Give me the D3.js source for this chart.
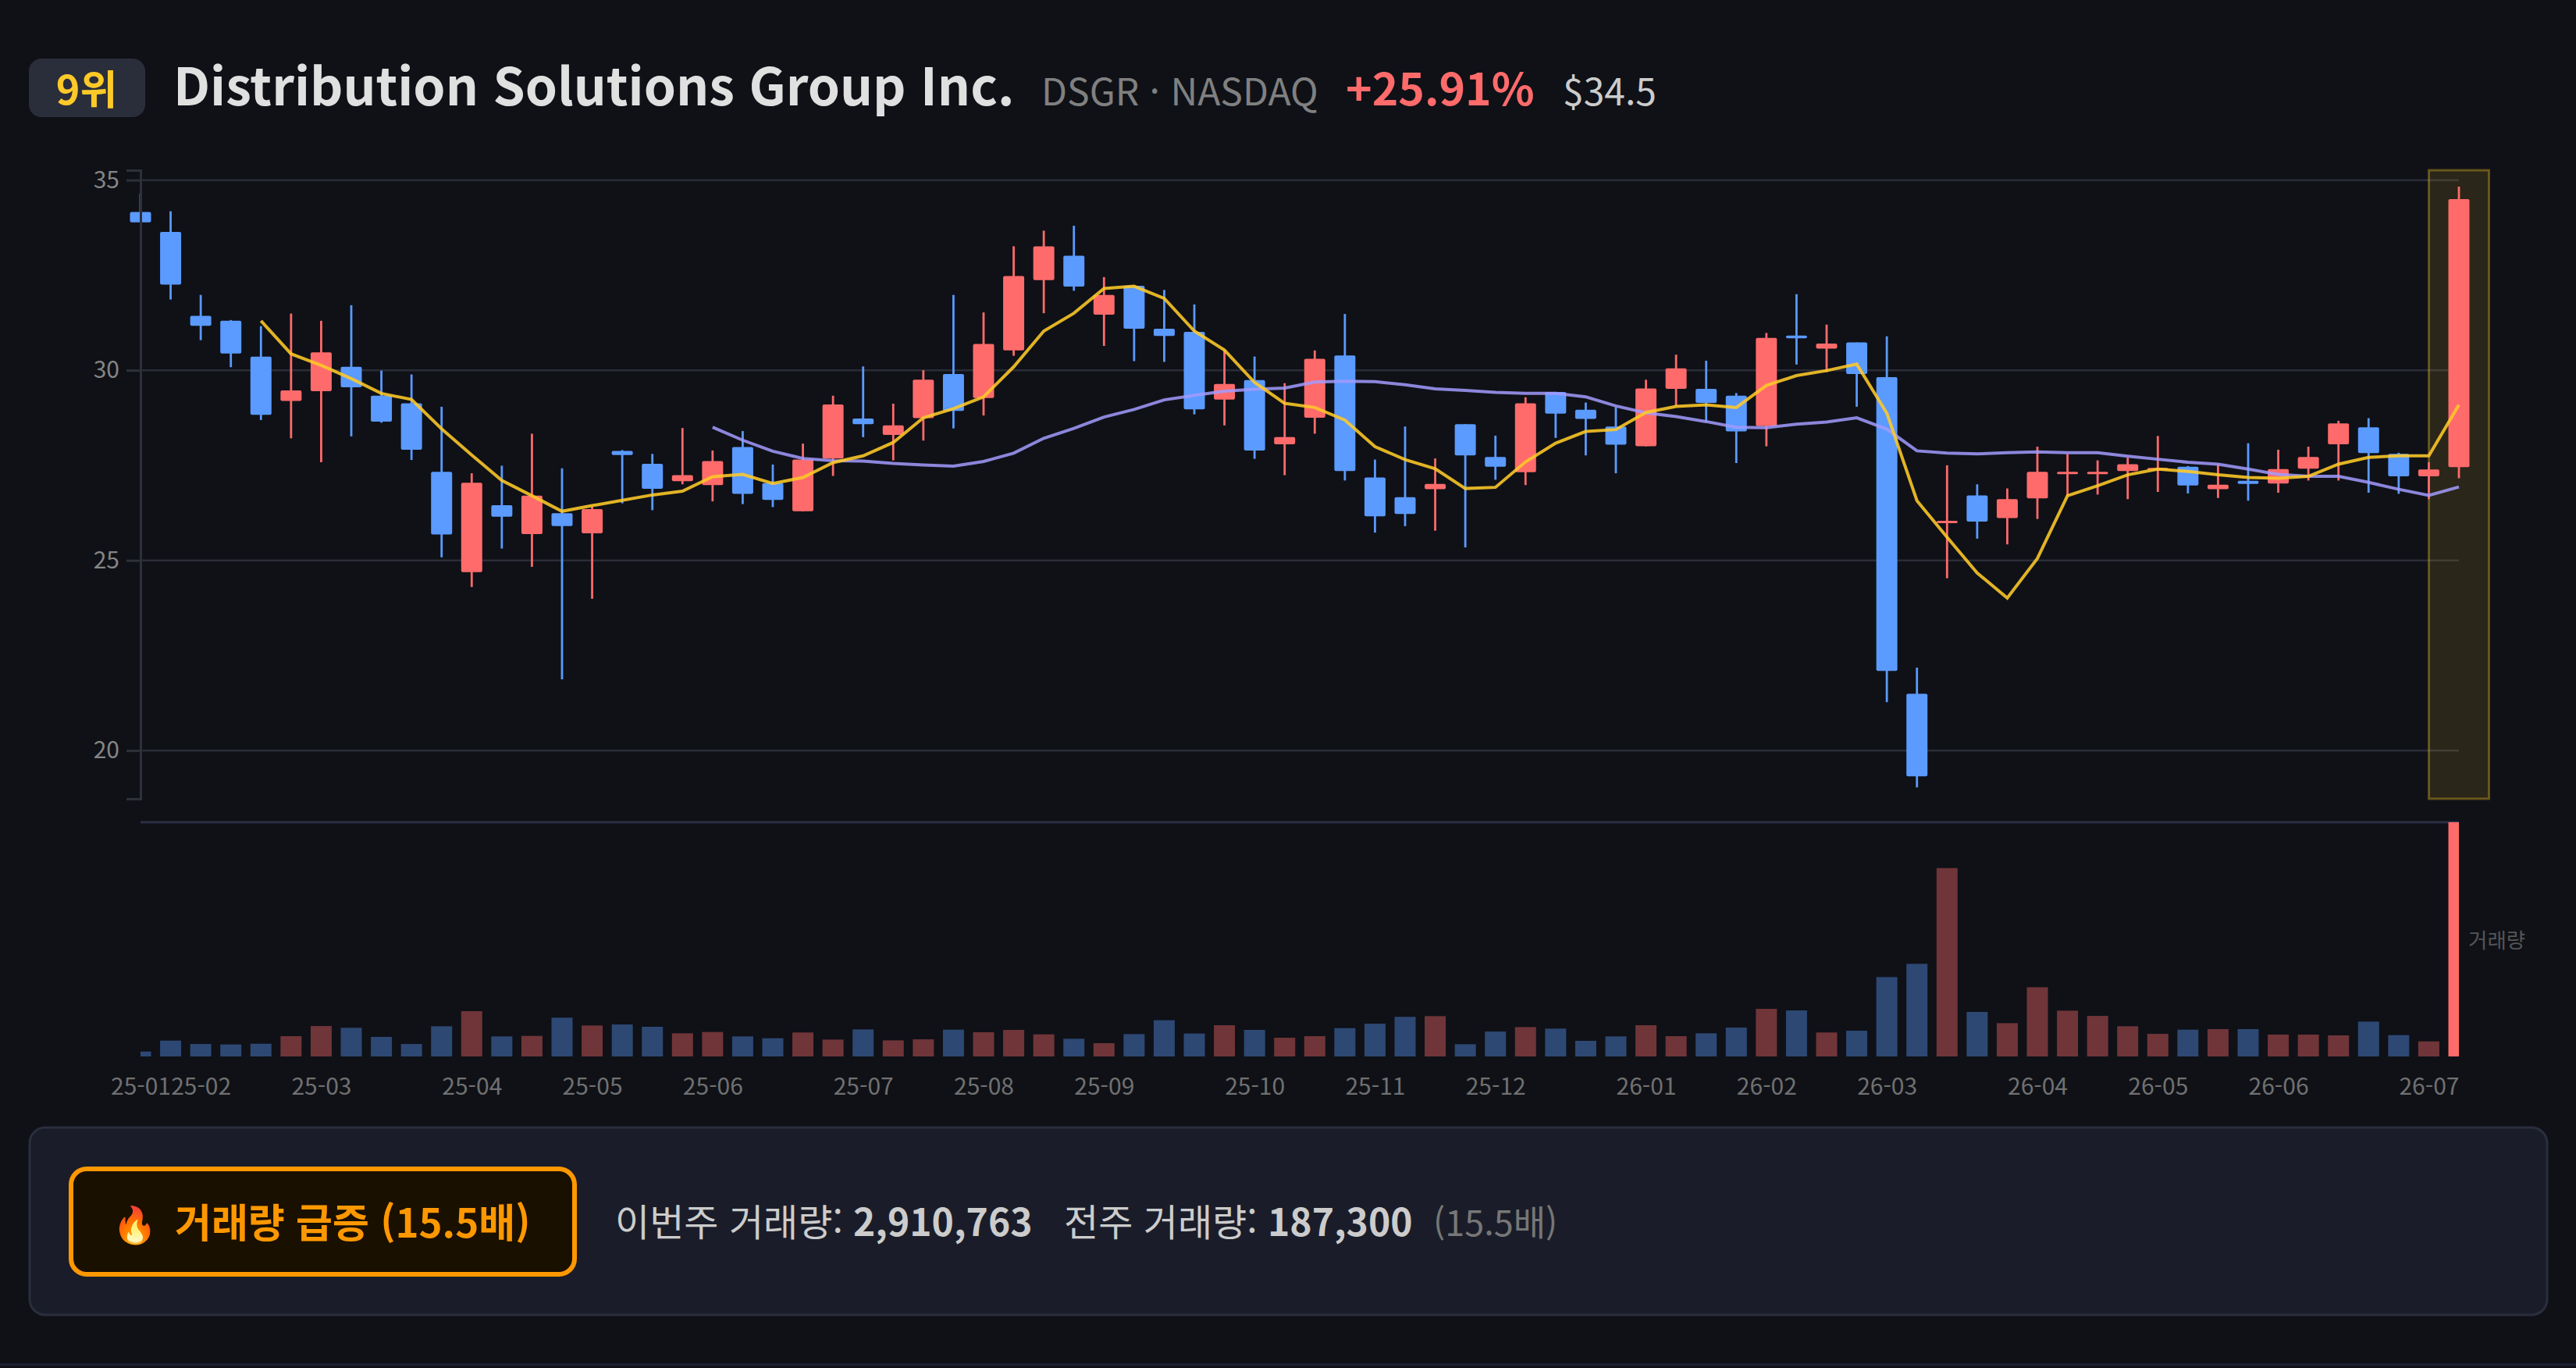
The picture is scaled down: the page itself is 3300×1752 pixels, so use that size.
<!DOCTYPE html>
<html lang="ko">
<head>
<meta charset="utf-8">
<script src="https://cdn.jsdelivr.net/npm/d3@7"></script>
<style>
  html, body { margin: 0; padding: 0; background: #0f1117; }
  svg { display: block; }
  text { font-family: "Noto Sans CJK KR", "Noto Sans", sans-serif; }
</style>
</head>
<body>
<svg id="chart" width="3300" height="1752"></svg>
<script>
const red = '#ff6b6b',
  blue = '#5b9aff',
  yellow = '#ffca28',
  purple = '#a29bfe',
  orange = '#ff9800'

// Weekly data
const opens = [34.16,33.64,31.43,31.30,30.36,29.19,29.45,30.09,29.33,29.13,27.33,24.69,26.45,25.69,26.24,25.71,27.88,27.54,27.08,26.98,
  27.98,27.03,26.29,27.68,28.73,28.30,28.74,29.90,29.27,30.52,32.37,33.01,31.46,32.22,31.09,31.01,29.23,29.74,28.05,28.75,
  30.39,27.18,26.66,26.87,28.58,27.72,27.32,29.43,28.96,28.52,28.00,29.51,29.51,29.33,28.53,30.91,30.57,30.73,29.82,21.49,
  26.00,26.71,26.11,26.63,27.28,27.28,27.35,27.37,27.46,26.87,27.09,27.02,27.41,28.05,28.50,27.80,27.21,27.45]
const closes = [33.89,32.25,31.17,30.44,28.83,29.47,30.47,29.55,28.65,27.91,25.68,27.04,26.15,26.70,25.90,26.35,27.77,26.88,27.24,27.61,
  26.75,26.59,27.65,29.10,28.58,28.55,29.75,28.93,30.69,32.48,33.26,32.20,31.98,31.09,30.90,28.97,29.64,27.89,28.24,30.30,
  27.35,26.16,26.22,27.01,27.76,27.46,29.13,28.86,28.72,28.04,29.52,30.05,29.14,28.39,30.85,30.84,30.70,29.90,22.09,19.32,
  26.04,26.02,26.61,27.33,27.33,27.33,27.53,27.43,26.97,26.99,27.01,27.40,27.72,28.60,27.82,27.21,27.39,34.50]
const highs = [34.64,34.18,31.98,31.32,31.16,31.49,31.30,31.71,29.99,29.89,29.04,27.29,27.49,28.33,27.42,26.41,27.90,27.80,28.48,27.89,
  28.40,27.52,28.07,29.33,30.10,29.12,30.00,31.98,31.52,33.26,33.67,33.80,32.45,32.22,32.11,31.73,30.53,30.36,29.66,30.52,
  31.48,27.65,28.52,27.68,28.58,28.28,29.29,29.43,29.15,29.03,29.75,30.41,30.25,29.40,30.98,32.00,31.20,30.73,30.89,22.18,
  27.50,27.00,26.89,27.99,27.80,27.63,27.70,28.27,27.48,27.53,28.08,27.91,27.99,28.67,28.74,27.83,27.58,34.83]
const lows = [33.89,31.86,30.79,30.08,28.69,28.21,27.58,28.26,28.62,27.64,25.08,24.30,25.31,24.83,21.87,23.99,26.50,26.32,27.00,26.55,
  26.48,26.40,26.29,27.22,28.24,27.63,28.15,28.47,28.81,30.38,31.50,32.09,30.64,30.24,30.22,28.84,28.55,27.67,27.24,28.33,
  27.10,25.73,25.90,25.78,25.34,27.12,26.98,28.22,27.76,27.29,28.00,29.06,28.65,27.56,28.00,30.15,29.95,29.04,21.27,19.03,
  24.53,25.57,25.42,26.09,26.70,26.73,26.61,26.80,26.76,26.64,26.57,26.78,27.10,27.10,26.78,26.75,26.61,27.16]
const volumes = [61000,197000,155000,149000,158000,252000,378000,356000,243000,155000,375000,563000,249000,255000,482000,385000,398000,369000,288000,304000,
  249000,226000,298000,210000,336000,200000,213000,333000,301000,330000,275000,220000,165000,278000,450000,285000,388000,330000,233000,252000,
  352000,407000,492000,501000,152000,310000,365000,346000,194000,249000,388000,252000,288000,359000,592000,572000,298000,320000,986000,1151000,
  2341000,553000,414000,860000,569000,504000,375000,281000,333000,340000,340000,272000,272000,262000,433000,265000,187300,2910763]
const ma5 = [null,null,null,null,31.30,30.43,30.13,29.78,29.39,29.23,28.46,27.77,27.10,26.70,26.29,26.44,26.58,26.72,26.82,27.20,
  27.26,27.02,27.18,27.57,27.75,28.10,28.75,28.99,29.30,30.09,31.03,31.50,32.15,32.21,31.89,31.03,30.53,29.68,29.13,29.02,
  28.69,27.99,27.65,27.41,26.89,26.92,27.59,28.08,28.39,28.44,28.89,29.05,29.09,29.02,29.60,29.86,29.99,30.16,28.87,26.57,
  25.61,24.67,24.01,25.05,26.70,26.96,27.25,27.40,27.34,27.25,27.18,27.16,27.21,27.53,27.71,27.75,27.75,29.09]
const ma20 = [null,null,null,null,null,null,null,null,null,null,null,null,null,null,null,null,null,null,null,28.50,
  28.16,27.87,27.68,27.62,27.61,27.55,27.51,27.48,27.60,27.82,28.21,28.47,28.77,28.97,29.22,29.34,29.45,29.50,29.53,29.69,
  29.71,29.70,29.62,29.51,29.47,29.42,29.39,29.39,29.30,29.06,28.88,28.78,28.65,28.50,28.49,28.58,28.64,28.75,28.45,27.88,
  27.82,27.80,27.83,27.85,27.83,27.83,27.74,27.66,27.58,27.53,27.40,27.26,27.21,27.21,27.05,26.87,26.71,26.93]

// Month labels sit on the first week of each month
const tickWeeks = [0,2,6,11,15,19,24,28,32,37,41,45,50,54,58,63,67,71,76]
const tickLabels = ['25-01','25-02','25-03','25-04','25-05','25-06','25-07','25-08','25-09','25-10','25-11','25-12','26-01','26-02','26-03','26-04','26-05','26-06','26-07']
const priceTicks = [20, 25, 30, 35]
const lastWeek = volumes.length - 1

const svg = d3.select('#chart')
const weeks = d3.range(volumes.length)

let xPixelMin = 180
let xPixelMax = 3150
let bodyWidth = 27

// Create scales:
let xScale = d3.scaleLinear().domain([0, lastWeek]).range([xPixelMin, xPixelMax])
let yScale = d3.scaleLinear().domain([18.73, 35.26]).range([1023, 218])
let volScale = d3.scaleLinear().domain([0, d3.max(volumes)]).range([1353, 1053])

svg.append('rect').attr('width', 3300).attr('height', 1752).attr('fill', '#0f1117')

// Header:
svg.append('rect')
  .attr('x', 37).attr('y', 75).attr('width', 149).attr('height', 75).attr('rx', 16)
  .attr('fill', '#2a2e3b')
svg.append('text')
  .attr('x', 111).attr('y', 134).attr('text-anchor', 'middle')
  .attr('font-size', 52).attr('font-weight', 700).attr('fill', yellow).text('9위')
svg.append('text')
  .attr('x', 222).attr('y', 135)
  .attr('font-size', 66).attr('font-weight', 700).attr('fill', '#e0e0e0')
  .text('Distribution Solutions Group Inc.')
svg.append('text')
  .attr('x', 1334).attr('y', 135)
  .attr('font-size', 48).attr('fill', '#808080').text('DSGR · NASDAQ')
svg.append('text')
  .attr('x', 1724).attr('y', 135)
  .attr('font-size', 57).attr('font-weight', 700).attr('fill', red).text('+25.91%')
svg.append('text')
  .attr('x', 2002).attr('y', 135)
  .attr('font-size', 48).attr('fill', '#cccccc').text('$34.5')

svg.append('g')
  .attr('id', 'gridG')
  .selectAll('line')
  .data(priceTicks)
  .enter()
  .append('line')
  .attr('x1', xPixelMin)
  .attr('x2', xPixelMax)
  .attr('y1', (d) => yScale(d))
  .attr('y2', (d) => yScale(d))
  .attr('stroke', '#2a2d37')
  .attr('stroke-width', 2.5)

// Highlight on the surge week:
svg.append('rect')
  .attr('x', xScale(lastWeek) - 38.5)
  .attr('y', yScale.range()[1])
  .attr('width', 77)
  .attr('height', yScale.range()[0] - yScale.range()[1])
  .attr('fill', yellow)
  .attr('fill-opacity', 0.115)
  .attr('stroke', yellow)
  .attr('stroke-opacity', 0.33)
  .attr('stroke-width', 3)

// Volume panel:
svg.append('clipPath')
  .attr('id', 'volClip')
  .append('rect')
  .attr('x', xPixelMin).attr('y', 1040)
  .attr('width', xPixelMax - xPixelMin).attr('height', 320)

svg.append('line')
  .attr('x1', xPixelMin).attr('x2', xPixelMax)
  .attr('y1', 1053).attr('y2', 1053)
  .attr('stroke', '#2a2e45').attr('stroke-width', 3)

svg.append('g')
  .attr('clip-path', 'url(#volClip)')
  .selectAll('rect.vol')
  .data(weeks)
  .enter()
  .append('rect')
  .attr('class', 'vol')
  .attr('x', (i) => xScale(i) - bodyWidth / 2)
  .attr('y', (i) => volScale(volumes[i]))
  .attr('width', bodyWidth)
  .attr('height', (i) => volScale(0) - volScale(volumes[i]))
  .attr('fill', (i) => (closes[i] >= opens[i] ? red : blue))
  .attr('fill-opacity', (i) => (i === lastWeek ? 1 : 0.4))

let xAxis = d3.axisBottom(xScale)
  .tickValues(tickWeeks)
  .tickFormat((d) => tickLabels[tickWeeks.indexOf(d)])
  .tickSize(0)
  .tickPadding(0)
svg.append('g')
  .attr('id', 'xAxisG')
  .attr('transform', 'translate(0, 1381)')
  .call(xAxis)
  .call((g) => {
    g.select('.domain').remove()
    g.selectAll('text').attr('fill', '#707070').attr('font-size', 30)
      .style('font-family', '"Noto Sans CJK KR"')
  })

svg.append('text')
  .attr('x', 3162).attr('y', 1214)
  .attr('font-size', 26.5).attr('fill', '#555555').text('거래량')

// Candles:
const candleColor = (i) => (closes[i] >= opens[i] ? red : blue)

svg.append('g')
  .selectAll('line')
  .data(weeks)
  .enter()
  .append('line')
  .attr('x1', (i) => xScale(i))
  .attr('x2', (i) => xScale(i))
  .attr('y1', (i) => yScale(highs[i]))
  .attr('y2', (i) => yScale(lows[i]))
  .attr('stroke', candleColor)
  .attr('stroke-width', 2.8)

svg.append('g')
  .selectAll('rect')
  .data(weeks)
  .enter()
  .append('rect')
  .attr('x', (i) => xScale(i) - bodyWidth / 2)
  .attr('y', (i) => yScale(Math.max(opens[i], closes[i])))
  .attr('width', bodyWidth)
  .attr('height', (i) => Math.max(3, Math.abs(yScale(opens[i]) - yScale(closes[i]))))
  .attr('rx', 2)
  .attr('fill', candleColor)

// The axis line runs over the first candle
let yAxis = d3.axisLeft(yScale).tickValues(priceTicks).tickSize(18).tickPadding(9)
svg.append('g')
  .attr('id', 'yAxisG')
  .attr('transform', `translate(${xPixelMin}, 0)`)
  .call(yAxis)
  .call((g) => {
    g.selectAll('path, line').attr('stroke', '#2e3138').attr('stroke-width', 3)
    g.selectAll('text').attr('fill', '#858585').attr('font-size', 30)
      .style('font-family', '"Noto Sans CJK KR"')
  })

// Moving averages:
const maLine = d3.line()
  .defined((d) => d != null)
  .x((d, i) => xScale(i))
  .y((d) => yScale(d))

svg.append('path')
  .attr('id', 'ma20Line')
  .attr('d', maLine(ma20))
  .attr('fill', 'none')
  .attr('stroke', purple)
  .attr('stroke-width', 4)
  .attr('stroke-opacity', 0.85)

svg.append('path')
  .attr('id', 'ma5Line')
  .attr('d', maLine(ma5))
  .attr('fill', 'none')
  .attr('stroke', yellow)
  .attr('stroke-width', 4)
  .attr('stroke-opacity', 0.88)

// Bottom panel:
svg.append('rect')
  .attr('x', 38).attr('y', 1444).attr('width', 3225).attr('height', 240).attr('rx', 20)
  .attr('fill', '#1a1d29').attr('stroke', '#2a2e3d').attr('stroke-width', 3)
svg.append('rect')
  .attr('x', 0).attr('y', 1746).attr('width', 3300).attr('height', 3.5)
  .attr('fill', '#1c2030')

svg.append('rect')
  .attr('x', 91).attr('y', 1497).attr('width', 645).attr('height', 135).attr('rx', 20)
  .attr('fill', '#1a1000').attr('stroke', orange).attr('stroke-width', 6)
svg.append('text')
  .attr('x', 144).attr('y', 1585)
  .attr('font-size', 46)
  .style('font-family', '"Noto Color Emoji", "Noto Sans CJK KR"')
  .text('🔥')
svg.append('text')
  .attr('x', 224).attr('y', 1585)
  .attr('font-size', 51).attr('font-weight', 700).attr('fill', orange)
  .text('거래량 급증 (15.5배)')

const statRow = [
  { x: 788, text: '이번주 거래량:', size: 48, weight: 400, fill: '#cccccc' },
  { x: 1093, text: '2,910,763', size: 48, weight: 700, fill: '#cccccc' },
  { x: 1363, text: '전주 거래량:', size: 48, weight: 400, fill: '#cccccc' },
  { x: 1624, text: '187,300', size: 48, weight: 700, fill: '#cccccc' },
  { x: 1836, text: '(15.5배)', size: 45, weight: 400, fill: '#777777' }
]
svg.append('g')
  .selectAll('text')
  .data(statRow)
  .enter()
  .append('text')
  .attr('x', (d) => d.x)
  .attr('y', 1583)
  .attr('font-size', (d) => d.size)
  .attr('font-weight', (d) => d.weight)
  .attr('fill', (d) => d.fill)
  .text((d) => d.text)
</script>
</body>
</html>
